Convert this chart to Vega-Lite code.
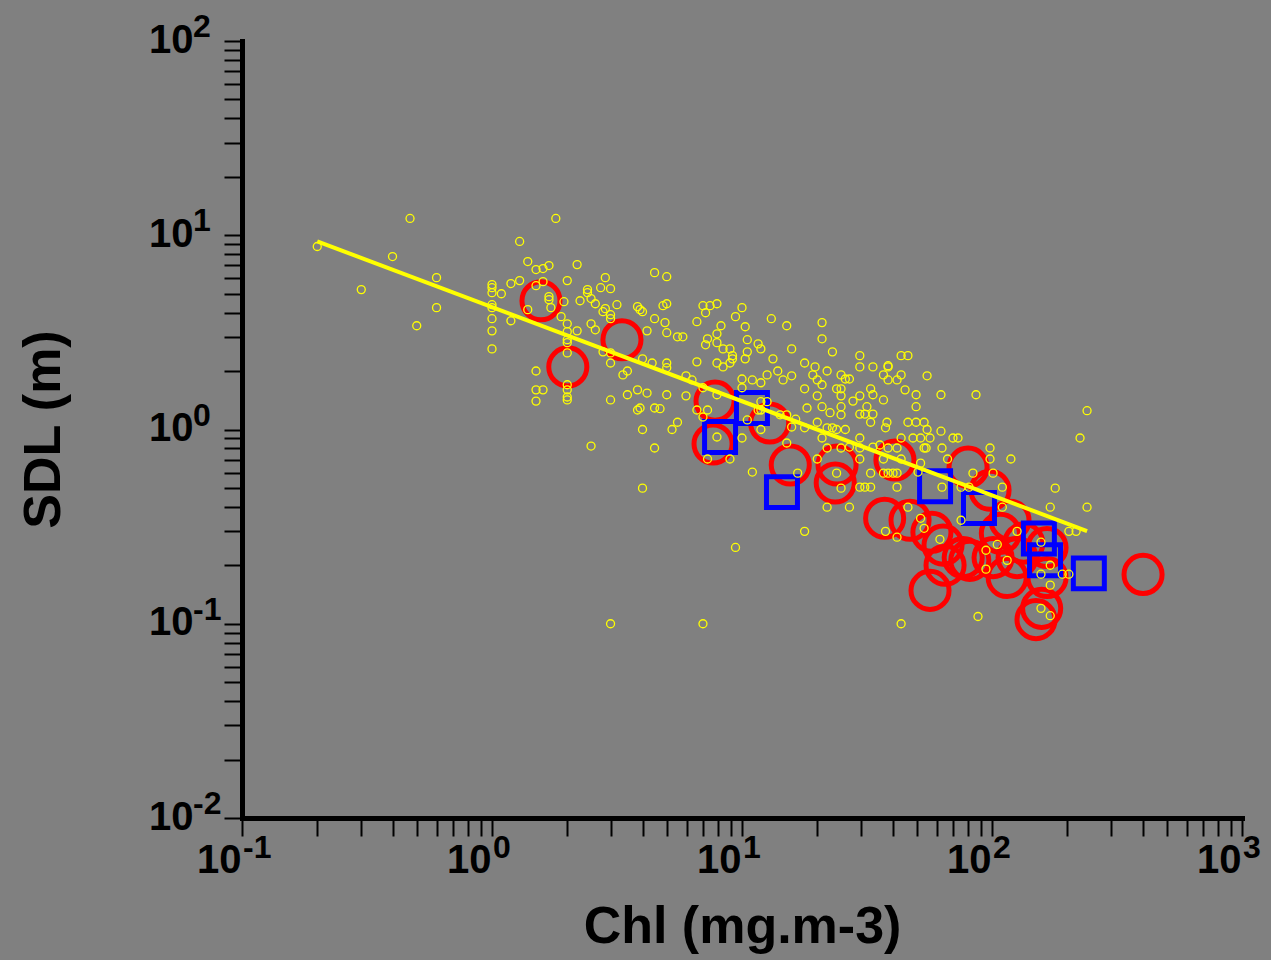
{
  "$schema": "https://vega.github.io/schema/vega-lite/v6.json",
  "width": 1000,
  "height": 777,
  "autosize": "none",
  "padding": {"left": 242, "top": 41, "right": 29, "bottom": 142},
  "background": "#808080",
  "config": {
    "view": {"stroke": null},
    "axis": {
      "grid": false,
      "domainColor": "#000000",
      "domainWidth": 5,
      "domainCap": "square",
      "tickColor": "#000000",
      "tickWidth": 2,
      "tickSize": 18,
      "labelFont": "Liberation Sans",
      "labelFontWeight": "bold",
      "labelFontSize": 40,
      "labelColor": "#000000",
      "labelOverlap": false,
      "labelBound": false,
      "labelFlush": false,
      "titleFont": "Liberation Sans",
      "titleFontWeight": "bold",
      "titleFontSize": 52,
      "titleColor": "#000000"
    }
  },
  "datasets": {
    "red": [
      {"chl": 1.57, "sdl": 4.6}, {"chl": 2.01, "sdl": 2.1}, {"chl": 3.31, "sdl": 2.9},
      {"chl": 7.8, "sdl": 1.4}, {"chl": 7.66, "sdl": 0.842}, {"chl": 12.9, "sdl": 1.08},
      {"chl": 15.6, "sdl": 0.656}, {"chl": 24.0, "sdl": 0.656}, {"chl": 23.6, "sdl": 0.53},
      {"chl": 40.9, "sdl": 0.696}, {"chl": 80.2, "sdl": 0.64}, {"chl": 98.2, "sdl": 0.487},
      {"chl": 37.2, "sdl": 0.349}, {"chl": 47.0, "sdl": 0.341}, {"chl": 57.5, "sdl": 0.296},
      {"chl": 63.7, "sdl": 0.254}, {"chl": 64.9, "sdl": 0.2}, {"chl": 56.5, "sdl": 0.1485},
      {"chl": 76.7, "sdl": 0.219}, {"chl": 81.5, "sdl": 0.212}, {"chl": 108, "sdl": 0.292},
      {"chl": 101, "sdl": 0.219}, {"chl": 115, "sdl": 0.173}, {"chl": 126, "sdl": 0.219},
      {"chl": 118, "sdl": 0.341}, {"chl": 166, "sdl": 0.247}, {"chl": 166, "sdl": 0.173},
      {"chl": 150, "sdl": 0.105}, {"chl": 158, "sdl": 0.12}, {"chl": 402, "sdl": 0.1795},
      {"chl": 134, "sdl": 0.26}
    ],
    "blue": [
      {"chl": 8.17, "sdl": 0.915}, {"chl": 10.96, "sdl": 1.29}, {"chl": 14.45, "sdl": 0.476},
      {"chl": 59.2, "sdl": 0.511}, {"chl": 88.7, "sdl": 0.394}, {"chl": 154, "sdl": 0.275},
      {"chl": 163, "sdl": 0.212}, {"chl": 244, "sdl": 0.1817}
    ],
    "yellow": [
      {"chl": 0.2, "sdl": 8.75}, {"chl": 0.47, "sdl": 12.2}, {"chl": 0.4, "sdl": 7.77}, {"chl": 0.3, "sdl": 5.25},
      {"chl": 0.6, "sdl": 6.05}, {"chl": 0.6, "sdl": 4.24}, {"chl": 0.5, "sdl": 3.42}, {"chl": 1.29, "sdl": 9.29},
      {"chl": 1.8, "sdl": 12.2}, {"chl": 1.39, "sdl": 7.32}, {"chl": 1.5, "sdl": 6.66}, {"chl": 1.6, "sdl": 6.74},
      {"chl": 1.69, "sdl": 6.98}, {"chl": 2.19, "sdl": 7.06}, {"chl": 1.0, "sdl": 5.57}, {"chl": 1.0, "sdl": 5.37},
      {"chl": 1.0, "sdl": 5.06}, {"chl": 1.0, "sdl": 4.39}, {"chl": 1.0, "sdl": 4.24}, {"chl": 1.0, "sdl": 3.72},
      {"chl": 1.0, "sdl": 3.22}, {"chl": 1.0, "sdl": 2.6}, {"chl": 1.09, "sdl": 5.0}, {"chl": 1.19, "sdl": 5.64},
      {"chl": 1.29, "sdl": 5.84}, {"chl": 1.19, "sdl": 3.63}, {"chl": 1.5, "sdl": 5.5}, {"chl": 1.6, "sdl": 5.77},
      {"chl": 1.69, "sdl": 4.83}, {"chl": 1.69, "sdl": 4.66}, {"chl": 1.72, "sdl": 4.24}, {"chl": 1.39, "sdl": 4.14},
      {"chl": 1.94, "sdl": 4.55}, {"chl": 2.0, "sdl": 5.84}, {"chl": 1.89, "sdl": 3.81}, {"chl": 2.0, "sdl": 3.5},
      {"chl": 2.0, "sdl": 3.19}, {"chl": 2.0, "sdl": 2.9}, {"chl": 2.0, "sdl": 2.8}, {"chl": 2.0, "sdl": 2.48},
      {"chl": 2.0, "sdl": 1.7}, {"chl": 2.0, "sdl": 1.6}, {"chl": 2.0, "sdl": 1.47}, {"chl": 2.0, "sdl": 1.42},
      {"chl": 1.5, "sdl": 2.0}, {"chl": 1.5, "sdl": 1.6}, {"chl": 1.6, "sdl": 1.6}, {"chl": 1.5, "sdl": 1.4},
      {"chl": 2.25, "sdl": 4.6}, {"chl": 2.41, "sdl": 5.25}, {"chl": 2.41, "sdl": 5.06}, {"chl": 2.49, "sdl": 4.72},
      {"chl": 2.59, "sdl": 4.44}, {"chl": 2.84, "sdl": 6.05}, {"chl": 2.72, "sdl": 5.37}, {"chl": 2.98, "sdl": 5.31},
      {"chl": 3.16, "sdl": 4.39}, {"chl": 2.78, "sdl": 4.04}, {"chl": 2.84, "sdl": 4.19}, {"chl": 2.98, "sdl": 3.9},
      {"chl": 2.98, "sdl": 3.72}, {"chl": 2.49, "sdl": 3.5}, {"chl": 2.19, "sdl": 3.22}, {"chl": 2.59, "sdl": 3.26},
      {"chl": 2.78, "sdl": 2.51}, {"chl": 2.98, "sdl": 2.48}, {"chl": 2.98, "sdl": 2.2}, {"chl": 3.34, "sdl": 1.91},
      {"chl": 3.48, "sdl": 2.0}, {"chl": 3.82, "sdl": 4.29}, {"chl": 2.98, "sdl": 1.42}, {"chl": 3.48, "sdl": 1.51},
      {"chl": 3.82, "sdl": 1.26}, {"chl": 2.49, "sdl": 0.822}, {"chl": 3.82, "sdl": 1.6},
      {"chl": 4.47, "sdl": 6.42}, {"chl": 5.0, "sdl": 6.12}, {"chl": 4.47, "sdl": 3.72}, {"chl": 4.92, "sdl": 3.55},
      {"chl": 5.0, "sdl": 3.15}, {"chl": 4.83, "sdl": 4.34}, {"chl": 5.0, "sdl": 4.44}, {"chl": 4.17, "sdl": 3.22},
      {"chl": 4.37, "sdl": 2.2}, {"chl": 5.0, "sdl": 2.2}, {"chl": 5.0, "sdl": 2.08}, {"chl": 5.0, "sdl": 1.51},
      {"chl": 5.52, "sdl": 3.0}, {"chl": 4.17, "sdl": 1.54}, {"chl": 3.91, "sdl": 4.14}, {"chl": 4.0, "sdl": 4.04},
      {"chl": 4.0, "sdl": 2.31}, {"chl": 3.91, "sdl": 1.29}, {"chl": 4.47, "sdl": 1.29}, {"chl": 4.7, "sdl": 1.28},
      {"chl": 4.0, "sdl": 1.0}, {"chl": 4.47, "sdl": 0.803}, {"chl": 5.25, "sdl": 1.0}, {"chl": 5.52, "sdl": 1.09},
      {"chl": 4.0, "sdl": 0.499}, {"chl": 2.98, "sdl": 0.1}, {"chl": 6.98, "sdl": 0.1},
      {"chl": 6.98, "sdl": 4.34}, {"chl": 7.45, "sdl": 4.34}, {"chl": 7.94, "sdl": 4.44}, {"chl": 7.15, "sdl": 3.99},
      {"chl": 6.6, "sdl": 3.59}, {"chl": 10.0, "sdl": 4.24}, {"chl": 9.42, "sdl": 3.81}, {"chl": 13.1, "sdl": 3.72},
      {"chl": 15.1, "sdl": 3.42}, {"chl": 20.9, "sdl": 3.55}, {"chl": 20.9, "sdl": 2.93}, {"chl": 8.24, "sdl": 3.42},
      {"chl": 7.94, "sdl": 3.11}, {"chl": 7.28, "sdl": 2.93}, {"chl": 7.15, "sdl": 2.73}, {"chl": 7.94, "sdl": 2.8},
      {"chl": 10.3, "sdl": 3.38}, {"chl": 10.5, "sdl": 2.9}, {"chl": 11.6, "sdl": 2.76}, {"chl": 11.9, "sdl": 2.6},
      {"chl": 8.4, "sdl": 2.6}, {"chl": 8.95, "sdl": 2.6}, {"chl": 9.16, "sdl": 2.4}, {"chl": 9.16, "sdl": 2.31},
      {"chl": 8.95, "sdl": 2.2}, {"chl": 8.4, "sdl": 2.1}, {"chl": 7.94, "sdl": 2.2}, {"chl": 10.5, "sdl": 2.51},
      {"chl": 10.3, "sdl": 2.31}, {"chl": 13.3, "sdl": 2.31}, {"chl": 15.8, "sdl": 2.6}, {"chl": 23.0, "sdl": 2.51},
      {"chl": 29.6, "sdl": 2.4}, {"chl": 29.6, "sdl": 2.1}, {"chl": 33.4, "sdl": 2.1}, {"chl": 17.8, "sdl": 2.2},
      {"chl": 19.6, "sdl": 2.1}, {"chl": 21.9, "sdl": 2.0}, {"chl": 24.9, "sdl": 1.91}, {"chl": 25.9, "sdl": 1.82},
      {"chl": 26.9, "sdl": 1.82}, {"chl": 36.8, "sdl": 1.91}, {"chl": 38.4, "sdl": 2.1}, {"chl": 5.8, "sdl": 3.0},
      {"chl": 6.6, "sdl": 2.23}, {"chl": 5.97, "sdl": 1.89}, {"chl": 6.31, "sdl": 1.8}, {"chl": 5.97, "sdl": 1.49},
      {"chl": 6.98, "sdl": 1.64}, {"chl": 7.94, "sdl": 1.51}, {"chl": 12.6, "sdl": 1.91}, {"chl": 13.9, "sdl": 2.0},
      {"chl": 14.6, "sdl": 1.8}, {"chl": 15.8, "sdl": 1.89}, {"chl": 11.0, "sdl": 1.8}, {"chl": 11.9, "sdl": 1.74},
      {"chl": 10.0, "sdl": 1.82}, {"chl": 10.0, "sdl": 1.64}, {"chl": 19.2, "sdl": 1.91}, {"chl": 20.0, "sdl": 1.8},
      {"chl": 20.9, "sdl": 1.7}, {"chl": 17.8, "sdl": 1.62}, {"chl": 20.0, "sdl": 1.49}, {"chl": 23.9, "sdl": 1.62},
      {"chl": 24.9, "sdl": 1.62}, {"chl": 24.9, "sdl": 1.49}, {"chl": 27.8, "sdl": 1.4}, {"chl": 29.6, "sdl": 1.49},
      {"chl": 32.7, "sdl": 1.62}, {"chl": 33.4, "sdl": 1.51}, {"chl": 36.8, "sdl": 1.42}, {"chl": 20.9, "sdl": 1.31},
      {"chl": 24.9, "sdl": 1.31}, {"chl": 31.6, "sdl": 1.31}, {"chl": 29.6, "sdl": 1.2}, {"chl": 31.0, "sdl": 1.2},
      {"chl": 33.4, "sdl": 1.2}, {"chl": 32.7, "sdl": 1.09}, {"chl": 18.2, "sdl": 1.29}, {"chl": 20.0, "sdl": 1.09},
      {"chl": 21.9, "sdl": 1.02}, {"chl": 23.0, "sdl": 1.02}, {"chl": 23.9, "sdl": 1.0}, {"chl": 17.8, "sdl": 1.02},
      {"chl": 14.2, "sdl": 1.19}, {"chl": 15.1, "sdl": 1.19}, {"chl": 11.9, "sdl": 1.39}, {"chl": 11.9, "sdl": 1.26},
      {"chl": 12.6, "sdl": 1.39}, {"chl": 16.4, "sdl": 1.13}, {"chl": 15.8, "sdl": 1.03}, {"chl": 15.1, "sdl": 0.852},
      {"chl": 29.6, "sdl": 0.904}, {"chl": 26.9, "sdl": 0.812}, {"chl": 33.4, "sdl": 0.812}, {"chl": 35.6, "sdl": 0.832},
      {"chl": 37.5, "sdl": 1.02}, {"chl": 7.94, "sdl": 0.915}, {"chl": 6.6, "sdl": 1.26}, {"chl": 7.28, "sdl": 1.26},
      {"chl": 6.98, "sdl": 1.16}, {"chl": 10.5, "sdl": 1.12}, {"chl": 11.6, "sdl": 1.26},
      {"chl": 10.0, "sdl": 0.904}, {"chl": 11.9, "sdl": 1.0}, {"chl": 22.5, "sdl": 1.22}, {"chl": 20.9, "sdl": 0.904},
      {"chl": 25.9, "sdl": 1.0}, {"chl": 24.9, "sdl": 1.19}, {"chl": 29.6, "sdl": 0.803}, {"chl": 21.9, "sdl": 0.803},
      {"chl": 24.9, "sdl": 0.803}, {"chl": 7.28, "sdl": 0.705}, {"chl": 8.95, "sdl": 0.705}, {"chl": 11.0, "sdl": 0.604},
      {"chl": 20.0, "sdl": 0.705}, {"chl": 23.9, "sdl": 0.596}, {"chl": 16.7, "sdl": 0.596}, {"chl": 24.9, "sdl": 0.499},
      {"chl": 21.9, "sdl": 0.398}, {"chl": 17.8, "sdl": 0.299}, {"chl": 9.42, "sdl": 0.247},
      {"chl": 43.3, "sdl": 2.4}, {"chl": 46.1, "sdl": 2.4}, {"chl": 38.4, "sdl": 2.13}, {"chl": 38.4, "sdl": 1.8},
      {"chl": 41.7, "sdl": 1.8}, {"chl": 43.3, "sdl": 1.91}, {"chl": 55.0, "sdl": 1.89}, {"chl": 44.9, "sdl": 1.6},
      {"chl": 49.7, "sdl": 1.51}, {"chl": 62.5, "sdl": 1.51}, {"chl": 86.3, "sdl": 1.51}, {"chl": 49.7, "sdl": 1.31},
      {"chl": 38.0, "sdl": 1.09}, {"chl": 46.1, "sdl": 1.09}, {"chl": 49.7, "sdl": 1.09}, {"chl": 53.5, "sdl": 1.09},
      {"chl": 55.0, "sdl": 1.0}, {"chl": 62.5, "sdl": 0.98}, {"chl": 43.3, "sdl": 0.904}, {"chl": 48.3, "sdl": 0.904},
      {"chl": 51.8, "sdl": 0.904}, {"chl": 56.5, "sdl": 0.904}, {"chl": 69.8, "sdl": 0.904}, {"chl": 73.1, "sdl": 0.904},
      {"chl": 38.4, "sdl": 0.803}, {"chl": 41.7, "sdl": 0.803}, {"chl": 53.5, "sdl": 0.803}, {"chl": 54.5, "sdl": 0.803},
      {"chl": 63.1, "sdl": 0.803}, {"chl": 98.2, "sdl": 0.803}, {"chl": 240, "sdl": 1.25}, {"chl": 225, "sdl": 0.904},
      {"chl": 29.6, "sdl": 0.705}, {"chl": 36.8, "sdl": 0.705}, {"chl": 43.3, "sdl": 0.705}, {"chl": 66.4, "sdl": 0.705},
      {"chl": 98.2, "sdl": 0.705}, {"chl": 119, "sdl": 0.705}, {"chl": 32.7, "sdl": 0.596}, {"chl": 36.8, "sdl": 0.596},
      {"chl": 38.4, "sdl": 0.596}, {"chl": 40.2, "sdl": 0.596}, {"chl": 41.7, "sdl": 0.596}, {"chl": 51.8, "sdl": 0.671},
      {"chl": 83.9, "sdl": 0.596}, {"chl": 101, "sdl": 0.596}, {"chl": 29.6, "sdl": 0.505}, {"chl": 31.0, "sdl": 0.505},
      {"chl": 32.7, "sdl": 0.505}, {"chl": 41.7, "sdl": 0.505}, {"chl": 63.1, "sdl": 0.505}, {"chl": 75.2, "sdl": 0.505},
      {"chl": 80.9, "sdl": 0.505}, {"chl": 110, "sdl": 0.505}, {"chl": 179, "sdl": 0.499}, {"chl": 26.9, "sdl": 0.398},
      {"chl": 46.1, "sdl": 0.398}, {"chl": 110, "sdl": 0.398}, {"chl": 171, "sdl": 0.398}, {"chl": 240, "sdl": 0.398},
      {"chl": 51.8, "sdl": 0.349}, {"chl": 75.2, "sdl": 0.341}, {"chl": 53.5, "sdl": 0.31}, {"chl": 37.5, "sdl": 0.299},
      {"chl": 41.7, "sdl": 0.279}, {"chl": 61.9, "sdl": 0.272}, {"chl": 126, "sdl": 0.299}, {"chl": 203, "sdl": 0.299},
      {"chl": 217, "sdl": 0.299}, {"chl": 157, "sdl": 0.263}, {"chl": 94.6, "sdl": 0.239}, {"chl": 105, "sdl": 0.256},
      {"chl": 94.6, "sdl": 0.191}, {"chl": 115, "sdl": 0.212}, {"chl": 157, "sdl": 0.18}, {"chl": 171, "sdl": 0.2},
      {"chl": 191, "sdl": 0.18}, {"chl": 203, "sdl": 0.18}, {"chl": 171, "sdl": 0.158}, {"chl": 157, "sdl": 0.12},
      {"chl": 171, "sdl": 0.11}, {"chl": 87.9, "sdl": 0.109}, {"chl": 43.3, "sdl": 0.1}, {"chl": 50.6, "sdl": 0.604}
    ],
    "fit": [
      {"chl": 0.2, "sdl": 9.3}, {"chl": 240, "sdl": 0.3}
    ],
    "xexp": [
      {"chl": 0.1, "sdl": 0.01, "e": "-1"}, {"chl": 1, "sdl": 0.01, "e": "0"},
      {"chl": 10, "sdl": 0.01, "e": "1"}, {"chl": 100, "sdl": 0.01, "e": "2"},
      {"chl": 1000, "sdl": 0.01, "e": "3"}
    ],
    "yexp": [
      {"chl": 0.1, "sdl": 0.01, "e": "-2"}, {"chl": 0.1, "sdl": 0.1, "e": "-1"},
      {"chl": 0.1, "sdl": 1, "e": "0"}, {"chl": 0.1, "sdl": 10, "e": "1"},
      {"chl": 0.1, "sdl": 100, "e": "2"}
    ]
  },
  "encoding": {
    "x": {
      "field": "chl",
      "type": "quantitative",
      "scale": {"type": "log", "domain": [0.1, 1000], "nice": false},
      "axis": {
        "title": "Chl (mg.m-3)",
        "values": [0.1, 0.2, 0.3, 0.4, 0.5, 0.6, 0.7, 0.8, 0.9, 1, 2, 3, 4, 5, 6, 7, 8, 9, 10, 20, 30, 40, 50, 60, 70, 80, 90, 100, 200, 300, 400, 500, 600, 700, 800, 900, 1000],
        "labelExpr": "(datum.value==0.1||datum.value==1||datum.value==10||datum.value==100||datum.value==1000)?'10':''",
        "labelAlign": "right",
        "labelOffset": -1,
        "labelPadding": 4,
        "titleBaseline": "middle",
        "titleY": 108
      }
    },
    "y": {
      "field": "sdl",
      "type": "quantitative",
      "scale": {"type": "log", "domain": [0.01, 100], "nice": false},
      "axis": {
        "title": "SDL (m)",
        "values": [0.01, 0.02, 0.03, 0.04, 0.05, 0.06, 0.07, 0.08, 0.09, 0.1, 0.2, 0.3, 0.4, 0.5, 0.6, 0.7, 0.8, 0.9, 1, 2, 3, 4, 5, 6, 7, 8, 9, 10, 20, 30, 40, 50, 60, 70, 80, 90, 100],
        "labelExpr": "(datum.value==0.01||datum.value==0.1||datum.value==1||datum.value==10||datum.value==100)?'10':''",
        "labelPadding": 31,
        "labelOffset": -1,
        "titleBaseline": "middle",
        "titleX": -199,
        "titleY": 388
      }
    }
  },
  "layer": [
    {
      "data": {"name": "red"},
      "mark": {"type": "point", "shape": "circle", "filled": false, "stroke": "#FF0000", "strokeWidth": 5, "size": 1450, "opacity": 1}
    },
    {
      "data": {"name": "blue"},
      "mark": {"type": "point", "shape": "square", "filled": false, "stroke": "#0000FF", "strokeWidth": 5, "size": 960, "opacity": 1}
    },
    {
      "data": {"name": "yellow"},
      "mark": {"type": "point", "shape": "circle", "filled": false, "stroke": "#FFFF00", "strokeWidth": 1.3, "size": 64, "opacity": 1}
    },
    {
      "data": {"name": "fit"},
      "mark": {"type": "line", "stroke": "#FFFF00", "strokeWidth": 4}
    },
    {
      "data": {"name": "xexp"},
      "mark": {"type": "text", "align": "left", "baseline": "alphabetic", "dx": 1, "dy": 40, "font": "Liberation Sans", "fontWeight": "bold", "fontSize": 32, "color": "#000000"},
      "encoding": {"text": {"field": "e"}}
    },
    {
      "data": {"name": "yexp"},
      "mark": {"type": "text", "align": "left", "baseline": "alphabetic", "dx": -49, "dy": -4, "font": "Liberation Sans", "fontWeight": "bold", "fontSize": 32, "color": "#000000"},
      "encoding": {"text": {"field": "e"}}
    }
  ]
}
